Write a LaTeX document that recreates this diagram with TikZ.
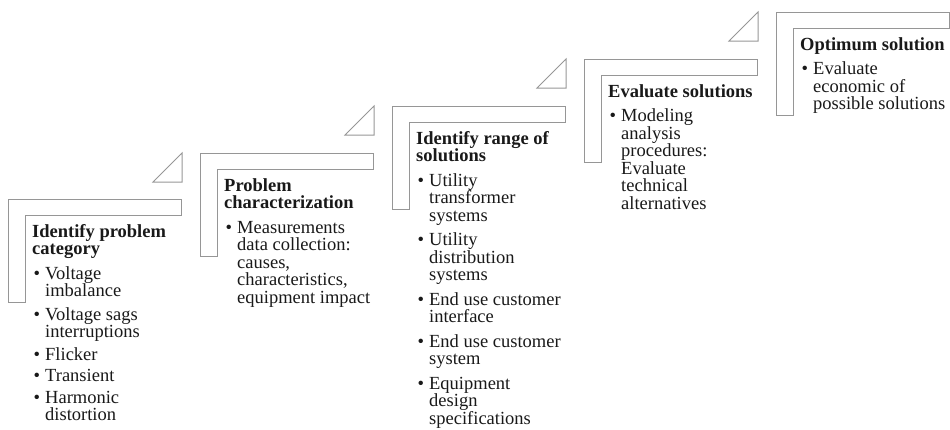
\documentclass[tikz,border=0pt]{standalone}
\usepackage{fontspec}
\setmainfont{Liberation Serif}

\definecolor{framegray}{RGB}{150,150,150}
\definecolor{textblack}{RGB}{25,25,25}

\tikzset{
  stepframe/.style={draw=framegray, line width=1pt, line join=miter},
  steptext/.style={anchor=north west, inner sep=0pt, align=left, text=textblack,
    font=\fontsize{18.5pt}{17.5pt}\selectfont},
}
\newcommand\bul{\makebox[13pt][l]{\hspace*{1.5pt}\textbullet}}
\newcommand\cont{\hspace*{13pt}}

\begin{document}
\begin{tikzpicture}[x=1pt, y=-1pt]
\useasboundingbox (0,0) rectangle (950,429);

% the five steps
\draw[stepframe] (8,199) -- ++(173,0) -- ++(0,16) -- ++(-156,0) -- ++(0,87) -- ++(-17,0) -- cycle;
\draw[stepframe] (200,153) -- ++(173,0) -- ++(0,16) -- ++(-156,0) -- ++(0,87) -- ++(-17,0) -- cycle;
\draw[stepframe] (392,106) -- ++(173,0) -- ++(0,16) -- ++(-156,0) -- ++(0,87) -- ++(-17,0) -- cycle;
\draw[stepframe] (584,59) -- ++(173,0) -- ++(0,16) -- ++(-156,0) -- ++(0,87) -- ++(-17,0) -- cycle;
\draw[stepframe] (776,12) -- ++(173,0) -- ++(0,16) -- ++(-156,0) -- ++(0,87) -- ++(-17,0) -- cycle;

% small triangles between the steps
\draw[stepframe] (153,182) -- (182,182) -- (182,153) -- cycle;
\draw[stepframe] (345,135) -- (374,135) -- (374,106) -- cycle;
\draw[stepframe] (537,88) -- (566,88) -- (566,59) -- cycle;
\draw[stepframe] (729,41) -- (758,41) -- (758,12) -- cycle;

\node[steptext] (s1) at (32,224) {\textbf{Identify problem}\\ \textbf{category}\\[7pt]
  \bul Voltage\\ \cont imbalance\\[6pt]
  \bul Voltage sags\\ \cont interruptions\\[5pt]
  \bul Flicker\\[4pt]
  \bul Transient\\[4pt]
  \bul Harmonic\\ \cont distortion};

\node[steptext] (s2) at (224,178) {\textbf{Problem}\\ \textbf{characterization}\\[7pt]
  \bul Measurements\\ \cont data collection:\\ \cont causes,\\ \cont characteristics,\\ \cont equipment impact};

\node[steptext] (s3) at (416,131) {\textbf{Identify range of}\\ \textbf{solutions}\\[7pt]
  \bul Utility\\ \cont transformer\\ \cont systems\\[7pt]
  \bul Utility\\ \cont distribution\\ \cont systems\\[7pt]
  \bul End use customer\\ \cont interface\\[7pt]
  \bul End use customer\\ \cont system\\[7pt]
  \bul Equipment\\ \cont design\\ \cont specifications};

\node[steptext] (s4) at (608,84) {\textbf{Evaluate solutions}\\[7pt]
  \bul Modeling\\ \cont analysis\\ \cont procedures:\\ \cont Evaluate\\ \cont technical\\ \cont alternatives};

\node[steptext] (s5) at (800,37) {\textbf{Optimum solution}\\[7pt]
  \bul Evaluate\\ \cont economic of\\ \cont possible solutions};
\end{tikzpicture}
\end{document}
